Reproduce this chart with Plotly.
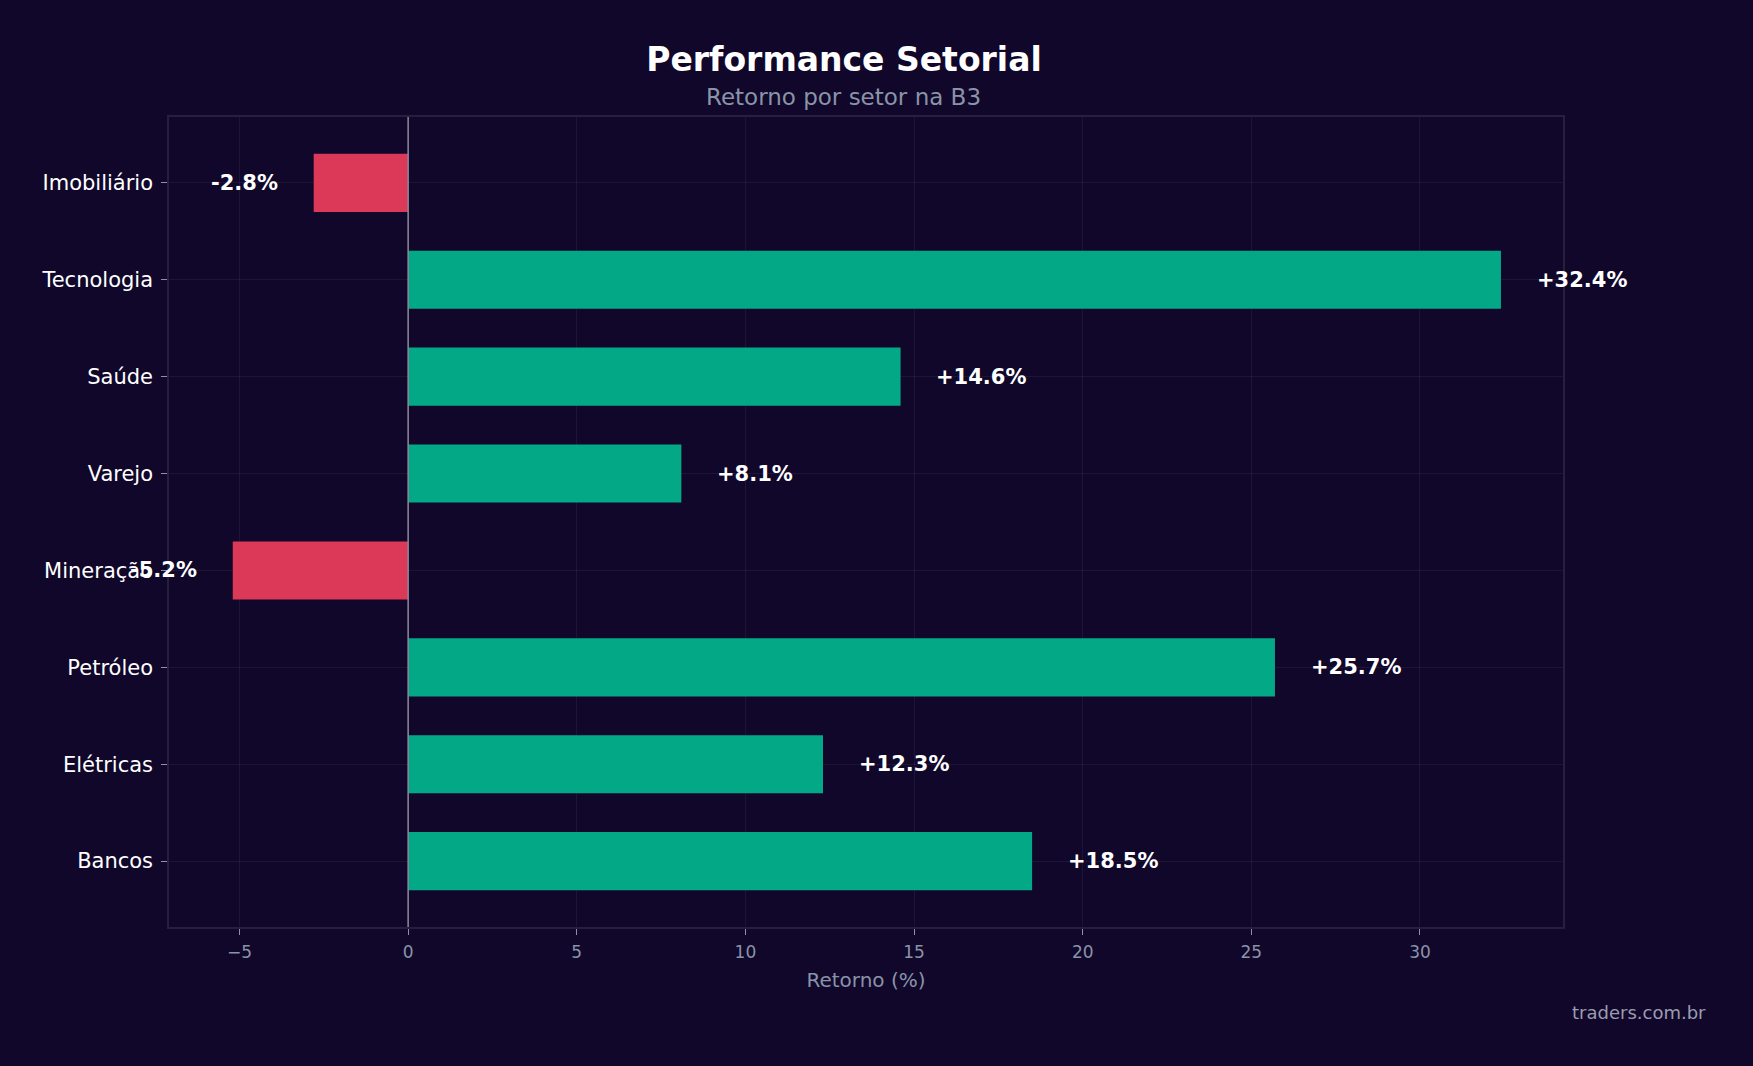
import plotly.graph_objects as go

sectors = ["Bancos", "Elétricas", "Petróleo", "Mineração", "Varejo", "Saúde", "Tecnologia", "Imobiliário"]
returns = [18.5, 12.3, 25.7, -5.2, 8.1, 14.6, 32.4, -2.8]
x_ticks = [-5, 0, 5, 10, 15, 20, 25, 30]
x_tick_labels = ["−5", "0", "5", "10", "15", "20", "25", "30"]

GREEN = "#03a886"
RED = "#dc3857"
BG = "#10072a"
GRID = "rgba(255,255,255,0.06)"
SPINE = "#261f3e"
MUTED = "#8a93a8"
FONT = "DejaVu Sans"

colors = [GREEN if v >= 0 else RED for v in returns]

fig = go.Figure()
fig.add_trace(go.Bar(
    x=returns, y=list(range(len(sectors))), orientation="h",
    marker=dict(color=colors, line=dict(width=0)),
    width=0.6, hoverinfo="skip",
))

for i, v in enumerate(returns):
    fig.add_annotation(
        x=v + (1 if v >= 0 else -1), y=i, xref="x", yref="y",
        text=f"<b>{v:+.1f}%</b>", showarrow=False,
        xanchor="left" if v >= 0 else "right", yanchor="middle",
        font=dict(family=FONT, size=21, color="white"),
    )

fig.add_shape(type="line", x0=0, x1=0, y0=0, y1=1, xref="x", yref="paper",
              line=dict(color="#8c8a9c", width=1.5))

fig.add_annotation(
    text="Retorno por setor na B3", xref="paper", yref="paper",
    x=0.4842, y=1.0247, xanchor="center", yanchor="middle", showarrow=False,
    font=dict(family=FONT, size=23, color=MUTED),
)
fig.add_annotation(
    text="traders.com.br", xref="paper", yref="paper",
    x=1.104, y=-0.105, xanchor="right", yanchor="middle", showarrow=False,
    font=dict(family=FONT, size=18, color="#9c9cb0"),
)

fig.update_layout(
    width=1753, height=1066,
    paper_bgcolor=BG, plot_bgcolor=BG,
    margin=dict(l=169, r=190, t=117, b=139),
    showlegend=False,
    title=dict(text="<b>Performance Setorial</b>", x=844 / 1753, xanchor="center",
               y=1 - 59 / 1066, yanchor="middle",
               font=dict(family=FONT, size=33, color="white")),
    font=dict(family=FONT),
    xaxis=dict(
        range=[-7.09, 34.24], tickvals=x_ticks, ticktext=x_tick_labels,
        showgrid=True, gridcolor=GRID, gridwidth=1, zeroline=False,
        ticks="outside", ticklen=6, tickwidth=1.2, tickcolor=MUTED,
        ticklabelstandoff=3,
        tickfont=dict(family=FONT, size=17, color=MUTED),
        showline=True, linecolor=SPINE, linewidth=1.5, mirror=True,
        title=dict(text="Retorno (%)", standoff=12,
                   font=dict(family=FONT, size=20, color=MUTED)),
    ),
    yaxis=dict(
        range=[-0.68, 7.68], tickvals=list(range(len(sectors))), ticktext=sectors,
        showgrid=True, gridcolor=GRID, gridwidth=1, zeroline=False,
        ticks="outside", ticklen=6, tickwidth=1.2, tickcolor=MUTED,
        ticklabelstandoff=4,
        tickfont=dict(family=FONT, size=21, color="white"),
        showline=True, linecolor=SPINE, linewidth=1.5, mirror=True,
    ),
)

fig.write_html("out.html", config={"displayModeBar": False},
               post_script="document.body.style.margin='0';")
